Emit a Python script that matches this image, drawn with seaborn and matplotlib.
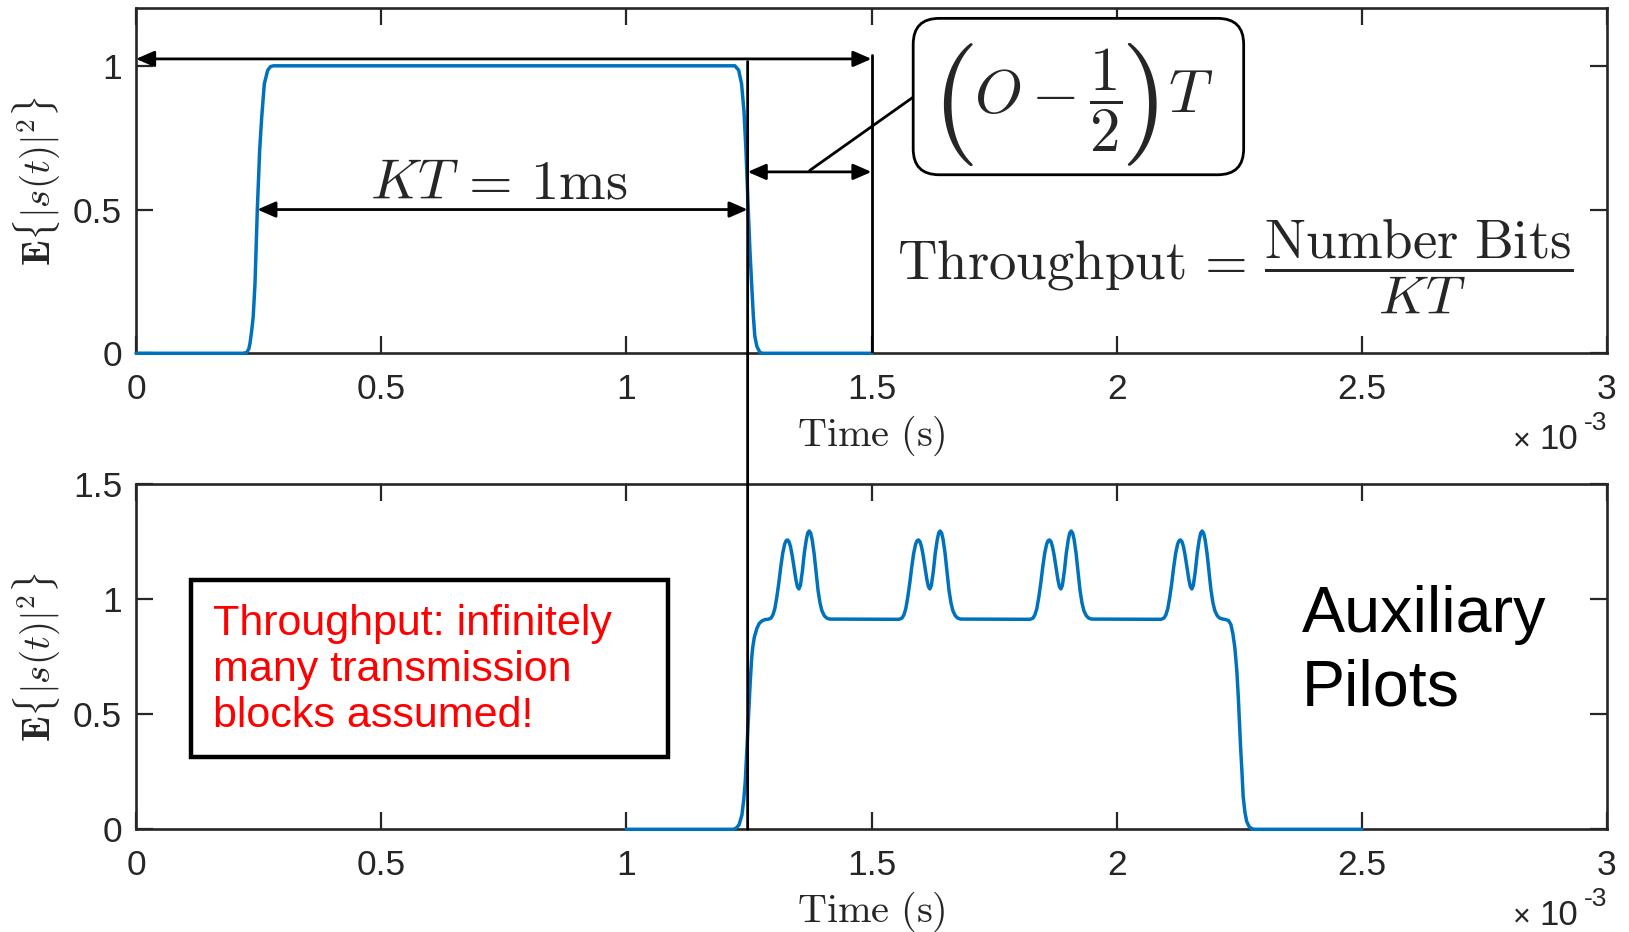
import numpy as np
import matplotlib
matplotlib.use("Agg")
import matplotlib.pyplot as plt
import seaborn as sns
from matplotlib.patches import Rectangle, FancyBboxPatch, ConnectionPatch

# ---------------- data (time in ms, normalised mean power) ----------------
top_time_ms = [0.0, 0.218, 0.2257, 0.230, 0.2325, 0.236, 0.239, 0.2427, 0.2474,
               0.2522, 0.2563, 0.2617, 0.2685, 0.274, 0.280,
               1.2214, 1.229, 1.235, 1.240, 1.2439, 1.2486, 1.252, 1.2555,
               1.259, 1.262, 1.266, 1.2723, 1.278, 1.5]
top_power = [0.0, 0.0, 0.003, 0.015, 0.035, 0.08, 0.127, 0.243, 0.5,
             0.706, 0.82, 0.9375, 0.984, 0.997, 1.0,
             1.0, 0.985, 0.9375, 0.84, 0.706, 0.5, 0.36, 0.243,
             0.13, 0.06, 0.025, 0.003, 0.0, 0.0]

rise_time_ms = [1.0, 1.218, 1.224, 1.230, 1.2357, 1.2395, 1.2425, 1.2459, 1.2494,
                1.2527, 1.2555, 1.2575, 1.261, 1.2663, 1.271, 1.2765, 1.283]
rise_power = [0.0, 0.0, 0.005, 0.02, 0.062, 0.13, 0.207, 0.352, 0.497,
              0.642, 0.74, 0.787, 0.835, 0.874, 0.895, 0.906, 0.912]

# one auxiliary-pilot pair, relative to its first peak
pilot_offset_ms = [-0.040, -0.034, -0.030, -0.026, -0.022, -0.018, -0.014, -0.010,
                   -0.006, -0.003, 0.000, 0.003, 0.006, 0.009, 0.013, 0.017, 0.020,
                   0.023, 0.026, 0.030, 0.034, 0.038, 0.041, 0.044, 0.047, 0.050,
                   0.054, 0.058, 0.062, 0.066, 0.070, 0.075, 0.080, 0.086]
pilot_power = [0.913, 0.918, 0.932, 0.960, 1.010, 1.070, 1.140, 1.200,
               1.240, 1.255, 1.258, 1.250, 1.228, 1.195, 1.140, 1.085, 1.055,
               1.045, 1.060, 1.120, 1.200, 1.258, 1.288, 1.297, 1.288, 1.260,
               1.200, 1.120, 1.040, 0.985, 0.950, 0.928, 0.918, 0.914]
pilot_peak_ms = [1.3289, 1.5960, 1.8632, 2.1303]

fall_time_ms = [2.220, 2.228, 2.233, 2.237, 2.241, 2.245, 2.248, 2.2505, 2.2527,
                2.2555, 2.258, 2.2615, 2.265, 2.270, 2.276, 2.282, 2.5]
fall_power = [0.913, 0.908, 0.890, 0.850, 0.790, 0.690, 0.577, 0.460, 0.359,
              0.250, 0.142, 0.075, 0.035, 0.012, 0.002, 0.0, 0.0]

x_ticks_ms = [0, 0.5, 1, 1.5, 2, 2.5, 3]
x_tick_labels = ["0", "0.5", "1", "1.5", "2", "2.5", "3"]
top_y_ticks = [0, 0.5, 1]
bottom_y_ticks = [0, 0.5, 1, 1.5]

pulse_start_ms = 0.2474
kt_ms = 1.0
guard_end_ms = 1.5

# ---------------- assemble the pilot-augmented block ----------------
bottom_time_ms = list(rise_time_ms)
bottom_power = list(rise_power)
for peak in pilot_peak_ms:
    bottom_time_ms += [peak + o for o in pilot_offset_ms]
    bottom_power += pilot_power
bottom_time_ms += fall_time_ms
bottom_power += fall_power

# ---------------- styling ----------------
sns.set_style("ticks")
plt.rcParams["font.family"] = ["Liberation Sans", "DejaVu Sans"]

BLUE = "#0072BD"
AXC = "#262626"
LW = 2.0

fig = plt.figure(figsize=(16.29, 9.32), dpi=100)
ax1 = fig.add_axes([0.08349, 0.62092, 0.90301, 0.37017])
ax2 = fig.add_axes([0.08349, 0.11019, 0.90301, 0.37017])

ms = 1e-3
sns.lineplot(x=np.array(top_time_ms) * ms, y=top_power, ax=ax1, color=BLUE,
             linewidth=2.5, estimator=None, sort=False, clip_on=False, zorder=3)
sns.lineplot(x=np.array(bottom_time_ms) * ms, y=bottom_power, ax=ax2, color=BLUE,
             linewidth=2.5, estimator=None, sort=False, clip_on=False, zorder=3)


def style_axes(ax, yticks, ymax):
    ax.set_xlim(0, 3 * ms)
    ax.set_ylim(0, ymax)
    ax.set_xticks(np.array(x_ticks_ms) * ms)
    ax.set_xticklabels(x_tick_labels)
    ax.set_yticks(yticks)
    ax.set_yticklabels([f"{v:g}" for v in yticks])
    ax.tick_params(direction="in", length=12, width=1.6, top=True, right=True,
                   labelsize=25.5, colors=AXC, labelcolor=AXC)
    ax.tick_params(axis="x", pad=14)
    ax.tick_params(axis="y", pad=10)
    for s in ax.spines.values():
        s.set_visible(True)
        s.set_linewidth(1.9)
        s.set_color(AXC)
    ax.set_xlabel(r"$\mathrm{Time\ (s)}$", fontsize=29, math_fontfamily="cm", color=AXC)
    ax.xaxis.set_label_coords(0.5, -0.175)
    ax.set_ylabel(r"$\mathbf{E}\{|s(t)|^2\}$", fontsize=28, math_fontfamily="cm", color=AXC)
    ax.yaxis.set_label_coords(-0.0505, 0.5)
    # exponent of the time axis
    for txt, dx, dy, fs in [("-3", 0, -69 + 14, 19), ("10", -21, -69, 25), ("\u00d7", -55, -70, 22)]:
        ax.annotate(txt, xy=(1, 0), xycoords="axes fraction", xytext=(dx, dy),
                    textcoords="offset points", ha="right", va="baseline",
                    fontsize=fs, color=AXC, annotation_clip=False)


style_axes(ax1, top_y_ticks, 1.2)
style_axes(ax2, bottom_y_ticks, 1.5)

ARW = dict(arrowstyle="<|-|>,head_length=11,head_width=4.8", mutation_scale=1,
           lw=LW, color="black", shrinkA=0, shrinkB=0)


def double_arrow(ax, x0, x1, y):
    ax.annotate("", xy=(x1 * ms, y), xytext=(x0 * ms, y), arrowprops=ARW,
                annotation_clip=False)


pulse_end_ms = pulse_start_ms + kt_ms

# annotations on the single block
double_arrow(ax1, 0.0, guard_end_ms, 1.024)
double_arrow(ax1, pulse_start_ms, pulse_end_ms, 0.5)
double_arrow(ax1, pulse_end_ms, guard_end_ms, 0.631)
ax1.plot([guard_end_ms * ms, guard_end_ms * ms], [0, 1.036], color="black", lw=LW,
         zorder=4)
ax1.text((pulse_start_ms + kt_ms / 2) * ms - 0.008 * ms, 0.588,
         r"$KT\,=\,1\mathrm{ms}$",
         fontsize=40.5, ha="center", va="center", math_fontfamily="cm")

# rounded call-out box for the guard interval
px_x = 3 * ms / (0.90301 * 1629)
px_y = 1.2 / (0.37017 * 932)
ax1.plot([1.374 * ms, 1.585 * ms], [0.636, 0.891], color="black", lw=LW, zorder=4)
box = FancyBboxPatch((1.585 * ms, 0.621), (2.259 - 1.585) * ms, 1.165 - 0.621,
                     boxstyle=f"round,pad=0,rounding_size={26 * px_x}",
                     mutation_aspect=px_y / px_x, facecolor="white",
                     edgecolor="black", lw=LW, zorder=5)
ax1.add_patch(box)
CM = dict(math_fontfamily="cm", ha="center", va="center", zorder=6)
ax1.text(1.664 * ms, 0.866, r"$($", fontsize=88, **CM)
ax1.text(2.046 * ms, 0.866, r"$)$", fontsize=88, **CM)
ax1.text(1.860 * ms, 0.878, r"$O-\dfrac{1}{2}$", fontsize=44, **CM)
ax1.text(2.150 * ms, 0.893, r"$T$", fontsize=44, **CM)

ax1.text(2.2416 * ms, 0.305,
         r"$\mathrm{Throughput}\,=\,\dfrac{\mathrm{Number\ Bits}}{KT}$",
         fontsize=39.5, ha="center", va="center", math_fontfamily="cm")

# vertical marker running through both panels at the end of the block
con = ConnectionPatch(xyA=(pulse_end_ms * ms, 1.015), coordsA=ax1.transData,
                      xyB=(pulse_end_ms * ms, 0.0), coordsB=ax2.transData,
                      color="black", lw=LW, zorder=10)
fig.add_artist(con)

# notes on the pilot-augmented block
ax2.add_patch(Rectangle((0.112 * ms, 0.314), (1.085 - 0.112) * ms, 1.084 - 0.314,
                        fill=False, edgecolor="black", lw=3.2, joinstyle="miter",
                        zorder=5))
ax2.text(0.157 * ms, 0.693, "Throughput: infinitely\nmany transmission\nblocks assumed!",
         color="#FF0000", fontsize=31, ha="left", va="center", linespacing=1.19,
         zorder=6)
ax2.text(2.377 * ms, 0.771, "Auxiliary\nPilots", color="black", fontsize=46.5,
         ha="left", va="center", linespacing=1.28)

fig.savefig("out.png", dpi=100)
